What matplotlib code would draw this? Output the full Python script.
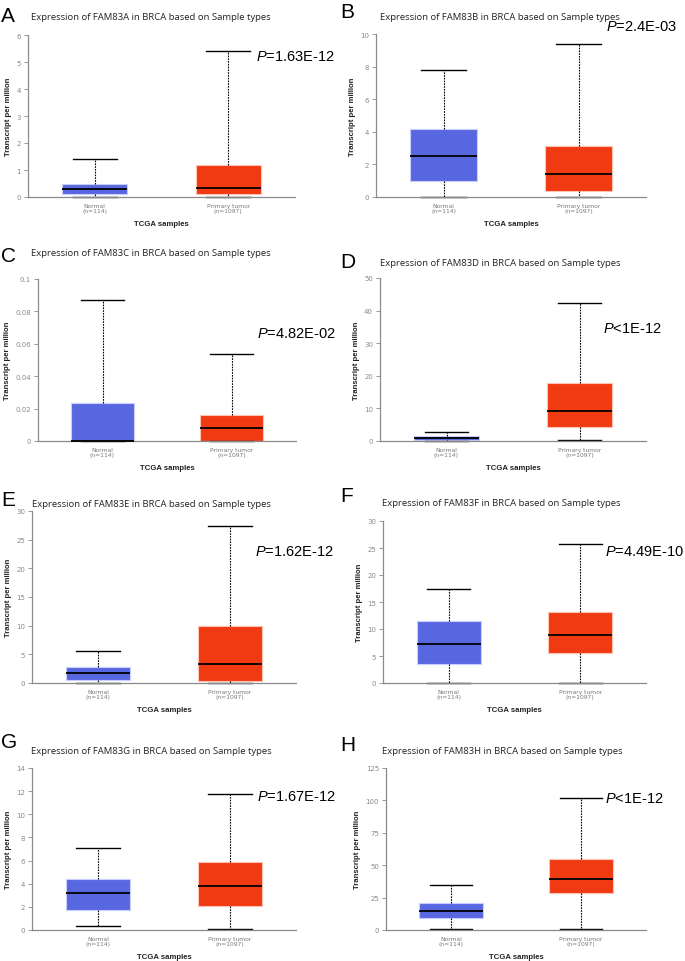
import matplotlib
matplotlib.use("Agg")
from matplotlib import pyplot as plt

plt.rcParams["mathtext.fontset"] = "custom"
plt.rcParams["mathtext.it"] = "Liberation Sans:italic"
plt.rcParams["mathtext.rm"] = "Liberation Sans"

# Datos de los paneles
letras = ["A", "B", "C", "D", "E", "F", "G", "H"]
genes = ["FAM83A", "FAM83B", "FAM83C", "FAM83D", "FAM83E", "FAM83F", "FAM83G", "FAM83H"]
valores_p = ["=1.63E-12", "=2.4E-03", "=4.82E-02", "<1E-12",
             "=1.62E-12", "=4.49E-10", "=1.67E-12", "<1E-12"]
grupos = ["Normal\n(n=114)", "Primary tumor\n(n=1097)"]

# (minimo, Q1, mediana, Q3, maximo) para Normal y Tumor
normal = [
    (0.0, 0.12, 0.30, 0.50, 1.42),
    (0.0, 1.0, 2.5, 4.15, 7.8),
    (0.0, 0.0, 0.0, 0.0233, 0.087),
    (0.1, 0.4, 0.9, 1.6, 2.9),
    (0.0, 0.6, 1.8, 2.8, 5.6),
    (0.0, 3.6, 7.2, 11.5, 17.5),
    (0.35, 1.7, 3.2, 4.45, 7.1),
    (0.5, 9.0, 15.0, 21.0, 34.5),
]
tumor = [
    (0.0, 0.10, 0.35, 1.2, 5.4),
    (0.0, 0.35, 1.4, 3.1, 9.4),
    (0.0, 0.0, 0.008, 0.0163, 0.054),
    (0.3, 4.4, 9.3, 17.7, 42.3),
    (0.0, 0.4, 3.4, 10.0, 27.4),
    (0.0, 5.5, 8.9, 13.2, 25.8),
    (0.05, 2.1, 3.8, 5.85, 11.75),
    (1.0, 28.5, 39.5, 55.0, 102.0),
]
ejes_y = [
    [0, 1, 2, 3, 4, 5, 6],
    [0, 2, 4, 6, 8, 10],
    [0, 0.02, 0.04, 0.06, 0.08, 0.1],
    [0, 10, 20, 30, 40, 50],
    [0, 5, 10, 15, 20, 25, 30],
    [0, 5, 10, 15, 20, 25, 30],
    [0, 2, 4, 6, 8, 10, 12, 14],
    [0, 25, 50, 75, 100, 125],
]

# Posiciones en pixeles: eje (izq, der, arriba, abajo), titulo, letra, texto P
W, H = 685, 962
cajas_ejes = [
    (28, 295, 36, 198), (376, 646, 35, 198),
    (38, 296, 280, 442), (380, 646, 279, 442),
    (32, 296, 512, 684), (383, 646, 522, 684),
    (32, 296, 769, 931), (386, 646, 769, 931),
]
pos_titulo = [(31, 17), (380, 17), (31, 253), (380, 263),
              (32, 505), (382, 504), (31, 752), (382, 752)]
pos_letra = [(1, 16), (340, 13), (1, 256), (340, 263),
             (1, 501), (340, 497), (1, 743), (340, 746)]
pos_p = [(256, 57), (606, 27), (257, 334), (603, 329),
         (255, 552), (605, 552), (257, 797), (605, 799)]

azul = "#5767e0"
rojo = "#f03a12"
gris = "#8a8a8a"

fig = plt.figure(figsize=(W / 100, H / 100), dpi=100)

for i in range(8):
    l, r, t, b = cajas_ejes[i]
    ax = fig.add_axes([l / W, 1 - b / H, (r - l) / W, (b - t) / H])
    stats = []
    for nombre, d in zip(grupos, [normal[i], tumor[i]]):
        stats.append({"whislo": d[0], "q1": d[1], "med": d[2], "q3": d[3],
                      "whishi": d[4], "label": nombre, "fliers": []})
    res = ax.bxp(stats, positions=[0.5, 1.5], widths=0.49, patch_artist=True,
                 showfliers=False, capwidths=0.33,
                 boxprops=dict(linewidth=0.8),
                 medianprops=dict(color="black", linewidth=1.3),
                 whiskerprops=dict(color="black", linewidth=0.8, linestyle=(0, (1.5, 1))),
                 capprops=dict(color="black", linewidth=1.0))
    for caja, color, borde in zip(res["boxes"], [azul, rojo], ["#c8ceff", "#ffc2b3"]):
        caja.set_facecolor(color)
        caja.set_edgecolor(borde)
    for linea in res["whiskers"] + res["caps"] + res["medians"]:
        linea.set_clip_on(False)
    for caja in res["boxes"]:
        caja.set_zorder(2)
    for linea in res["medians"]:
        linea.set_zorder(3)

    ax.set_xlim(0, 2)
    ax.set_ylim(0, ejes_y[i][-1])
    ax.set_yticks(ejes_y[i])
    ax.set_yticklabels(["%g" % v for v in ejes_y[i]])
    for lado in ["top", "right"]:
        ax.spines[lado].set_visible(False)
    for lado in ["left", "bottom"]:
        ax.spines[lado].set_color(gris)
        ax.spines[lado].set_linewidth(0.9)
    ax.tick_params(axis="y", colors=gris, labelsize=5, length=3, width=0.6, pad=2)
    ax.tick_params(axis="x", colors=gris, labelsize=4.3, length=0, pad=4)
    for etiqueta in ax.get_xticklabels():
        etiqueta.set_color("#777777")
    ax.set_ylabel("Transcript per million", family="Liberation Sans", fontsize=5.6,
                  fontweight="bold", color="#222222", labelpad=3)
    ax.set_xlabel("TCGA samples", family="Liberation Sans", fontsize=5.6,
                  fontweight="bold", color="#222222", labelpad=5)

    tx, ty = pos_titulo[i]
    fig.text(tx / W, 1 - ty / H,
             f"Expression of {genes[i]} in BRCA based on Sample types",
             family="Open Sans", fontsize=6.8, color="#222222", va="center", ha="left")
    lx, ly = pos_letra[i]
    fig.text(lx / W, 1 - ly / H, letras[i], family="Liberation Sans",
             fontsize=15, color="black", va="center", ha="left")
    px, py = pos_p[i]
    fig.text(px / W, 1 - py / H, r"$\mathit{P}$" + valores_p[i],
             family="Liberation Sans", fontsize=10.5, color="black",
             va="center", ha="left")

fig.savefig("out.png", dpi=100)
